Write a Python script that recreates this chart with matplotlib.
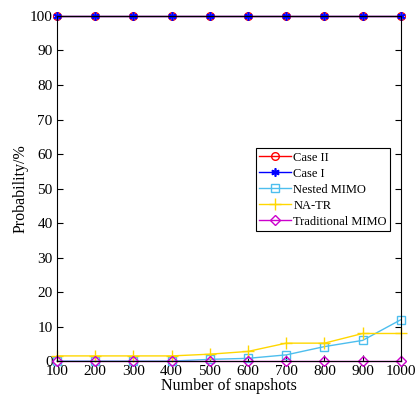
import matplotlib
matplotlib.use('Agg')
import matplotlib.pyplot as plt

plt.rcParams['font.family'] = ['Liberation Serif', 'DejaVu Serif']

snapshots = [100, 200, 300, 400, 500, 600, 700, 800, 900, 1000]
case2 = [100, 100, 100, 100, 100, 100, 100, 100, 100, 100]
case1 = [100, 100, 100, 100, 100, 100, 100, 100, 100, 100]
nested = [0, 0, 0, 0, 0.5, 0.8, 1.8, 4.2, 6, 12]
natr = [1.5, 1.5, 1.5, 1.5, 2, 2.8, 5.2, 5.2, 8, 8]
trad = [0, 0, 0, 0, 0, 0, 0, 0, 0, 0]

fig = plt.figure(figsize=(4.15, 3.99), dpi=100)
ax = fig.add_axes([0.137, 0.095, 0.829, 0.865])

ax.plot(snapshots, case2, color='red', marker='o', mfc='none', ms=5.5, lw=1, label='Case II', clip_on=False)
ax.plot(snapshots, case1, color='blue', marker=(6, 2, 0), ms=6, mew=1.2, lw=1, label='Case I', clip_on=False)
ax.plot(snapshots, nested, color='#4dbeee', marker='s', mfc='none', ms=5.5, lw=1, label='Nested MIMO', clip_on=False)
ax.plot(snapshots, natr, color='#ffd700', marker='+', ms=8, lw=1, label='NA-TR', clip_on=False)
ax.plot(snapshots, trad, color='#cc00cc', marker='D', mfc='none', ms=5, lw=1, label='Traditional MIMO', clip_on=False)

ax.set_xlim(100, 1000)
ax.set_ylim(0, 100)
ax.set_xticks(snapshots)
ax.set_yticks(range(0, 101, 10))
ax.tick_params(direction='in', right=True, top=False, labelsize=11, length=4, pad=3)
ax.set_xlabel('Number of snapshots', fontsize=11.5, labelpad=0)
ax.set_ylabel('Probability/%', fontsize=11.5, labelpad=1)

leg = ax.legend(loc='upper left', bbox_to_anchor=(0.578, 0.618), fontsize=9,
                fancybox=False, edgecolor='black', framealpha=1,
                borderpad=0.3, labelspacing=0.32, handlelength=2.5, handletextpad=0.2,
                borderaxespad=0)
leg.get_frame().set_linewidth(0.8)

fig.savefig('out.png', dpi=100)
